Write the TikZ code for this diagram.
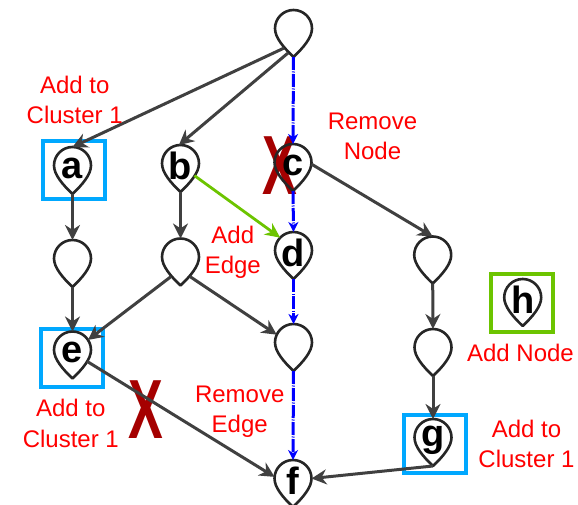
\documentclass[tikz,border=0pt]{standalone}
\usepackage{fontspec}
\setmainfont{Liberation Sans}
\usetikzlibrary{arrows.meta}
\definecolor{edgegray}{HTML}{404040}
\definecolor{pingray}{HTML}{262626}
\definecolor{clusterblue}{HTML}{00A8FF}
\definecolor{addgreen}{HTML}{6CC400}
\definecolor{crossred}{HTML}{A50000}
\tikzset{
    pinnode/.style={circle, minimum size=37, inner sep=0, outer sep=0},
    pinletter/.style={inner sep=0, font=\fontsize{38}{38}\selectfont\bfseries},
    pinline/.style={draw=pingray, line width=2.6pt, line join=round},
    clusterbox/.style={draw=clusterblue, line width=4pt, minimum width=62, minimum height=58, inner sep=0},
    newbox/.style={clusterbox, draw=addgreen},
    edgeline/.style={draw=edgegray, line width=3pt, -{Stealth[length=15pt,width=15pt]}},
    movedline/.style={draw=blue, line width=3pt, dash pattern=on 13pt off 1.5pt on 1pt off 1.5pt, -{Stealth[length=10pt,width=10pt,inset=3pt]}},
    addedline/.style={draw=addgreen, line width=2.8pt, -{Stealth[length=15pt,width=14pt]}},
    notetext/.style={text=red, align=center, font=\fontsize{24}{30.5}\selectfont},
    crossmark/.style={text=crossred, xscale=0.62, inner sep=0, font=\fontsize{84}{84}\selectfont\bfseries}
}
\begin{document}
\begin{tikzpicture}[x=1pt, y=-1pt]
    \useasboundingbox (0,0) rectangle (578,505);
    % boxes
    \node[clusterbox] (boxa) at (74,170) {};
    \node[clusterbox] (boxe) at (71.5,357.5) {};
    \node[clusterbox] (boxg) at (434.5,444) {};
    \node[newbox] (boxh) at (522,302.5) {};
    % crosses
    \node[crossmark] (crossc) at (279.5,165.5) {X};
    \node[crossmark] (crosse) at (145.5,410) {X};
    % pins
    \foreach \name/\px/\py/\letter in {top/293.5/28.5/{}, a/72.5/165.5/a, b/180.5/163.5/b, c/293/162.5/c,
        d/293.5/250.5/d, left/72.5/258.5/{}, mid/180.5/257/{}, e/72.5/350/e, low/293.5/342.5/{},
        f/293/478.5/f, rone/432.7/255/{}, rtwo/433/347.5/{}, g/433/437.5/g, h/522.7/297.5/h} {
        \node[pinnode] (\name) at (\px,\py) {};
        \begin{scope}[shift={(\px,\py)}]
            \node[pinletter] (\name-letter) at (0,2.5) {\letter};
            \draw[pinline] (-18.5,0) arc (180:360:18.5) .. controls (18.5,9) and (10,19) .. (0,28.5)
                .. controls (-10,19) and (-18.5,9) .. (-18.5,0) -- cycle;
            \coordinate (\name-tip) at (0,28.5);
            \coordinate (\name-sw) at (-9.5,19.6);
            \coordinate (\name-se) at (9.5,19.6);
        \end{scope}
    }
    \coordinate (top-low) at (288,53);
    % edges
    \draw[edgeline] (top-sw) -- (a.north);
    \draw[edgeline] (top-low) -- (b.95);
    \draw[edgeline] (a-tip) -- (left.north);
    \draw[edgeline] (b-tip) -- (mid.north);
    \draw[edgeline] (left-tip) -- (e.north);
    \draw[edgeline] (mid-sw) -- (e.33);
    \draw[edgeline] (mid-se) -- (low.155);
    \draw[edgeline] (e.-38) -- (f.175);
    \draw[edgeline] (c.-5) -- (rone.north);
    \draw[edgeline] (rone-tip) -- (rtwo.north);
    \draw[edgeline] (rtwo-tip) -- (g.north);
    \draw[edgeline] (g-tip) -- (f.0);
    \draw[addedline] (b.-41) -- (d.136);
    \draw[movedline] (top-tip) -- (c.north);
    \draw[movedline] (c-tip) -- (d.north);
    \draw[movedline] (d-tip) -- (low.north);
    \draw[movedline] (low-tip) -- (f.north);
    % labels
    \node[notetext] (notea) at (74.7,100) {Add to\\Cluster 1};
    \node[notetext] (notec) at (372.5,136.5) {Remove\\Node};
    \node[notetext] (noted) at (232.8,252.5) {Add\\Edge};
    \node[notetext] (notelow) at (239.7,411.5) {Remove\\Edge};
    \node[notetext] (notee) at (70.8,423.5) {Add to\\Cluster 1};
    \node[notetext] (noteg) at (526.5,444) {Add to\\Cluster 1};
    \node[notetext] (noteh) at (520.5,353) {Add Node};
\end{tikzpicture}
\end{document}
